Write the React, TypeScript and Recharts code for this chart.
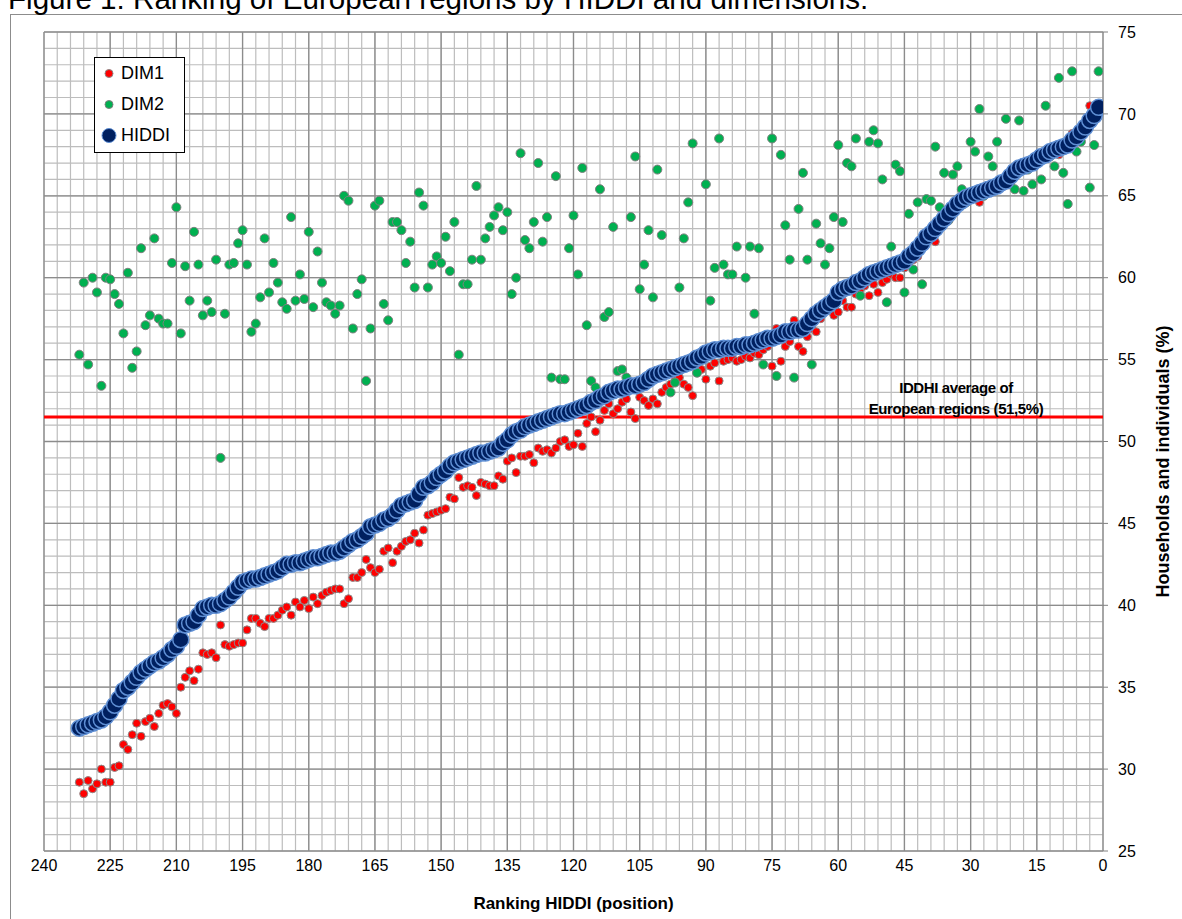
import React from 'react';
import {
  ScatterChart,
  Scatter,
  XAxis,
  YAxis,
  CartesianGrid,
  Legend,
  Label,
} from 'recharts';

// values listed from the last-ranked region (232) to the first (1)
const hiddi = [
  32.5, 32.6, 32.7, 32.8, 32.9, 33.0, 33.2, 33.5, 33.9, 34.3,
  34.8, 35.0, 35.3, 35.6, 35.9, 36.1, 36.3, 36.5, 36.6, 36.8,
  37.0, 37.3, 37.5, 37.9, 38.8, 38.9, 39.0, 39.4, 39.8, 39.9,
  40.0, 40.0, 40.1, 40.3, 40.5, 40.8, 41.1, 41.4, 41.5, 41.6,
  41.6, 41.7, 41.8, 41.9, 42.0, 42.1, 42.3, 42.5, 42.5, 42.6,
  42.6, 42.7, 42.8, 42.9, 42.9, 43.0, 43.1, 43.2, 43.2, 43.3,
  43.5, 43.7, 43.9, 44.0, 44.2, 44.4, 44.8, 44.9, 45.0, 45.2,
  45.3, 45.5, 45.8, 46.1, 46.2, 46.3, 46.4, 46.8, 47.2, 47.3,
  47.5, 47.8, 48.0, 48.2, 48.5, 48.7, 48.8, 48.9, 49.0, 49.1,
  49.2, 49.3, 49.3, 49.4, 49.5, 49.6, 49.9, 50.1, 50.4, 50.6,
  50.7, 50.9, 51.0, 51.1, 51.2, 51.3, 51.4, 51.5, 51.6, 51.7,
  51.7, 51.8, 51.9, 52.0, 52.1, 52.2, 52.4, 52.5, 52.7, 52.8,
  53.0, 53.1, 53.2, 53.2, 53.3, 53.4, 53.4, 53.5, 53.6, 53.8,
  54.0, 54.1, 54.2, 54.3, 54.4, 54.5, 54.6, 54.7, 54.8, 54.9,
  55.1, 55.2, 55.4, 55.5, 55.6, 55.6, 55.7, 55.7, 55.7, 55.8,
  55.8, 55.9, 55.9, 56.0, 56.1, 56.2, 56.3, 56.3, 56.4, 56.5,
  56.7, 56.7, 56.8, 56.8, 56.9, 57.2, 57.5, 57.8, 58.0, 58.2,
  58.4, 58.6, 59.1, 59.3, 59.4, 59.5, 59.7, 59.8, 60.0, 60.2,
  60.3, 60.4, 60.5, 60.6, 60.7, 60.8, 60.9, 61.0, 61.3, 61.5,
  61.8, 62.1, 62.5, 62.7, 63.0, 63.3, 63.6, 63.9, 64.2, 64.5,
  64.7, 64.9, 65.0, 65.1, 65.2, 65.3, 65.4, 65.5, 65.6, 65.8,
  65.9, 66.2, 66.5, 66.7, 66.8, 66.9, 67.0, 67.2, 67.4, 67.5,
  67.7, 67.8, 67.9, 68.0, 68.1, 68.4, 68.6, 68.9, 69.2, 69.6,
  69.9, 70.4,
];

const dim1 = [
  29.2, 28.5, 29.3, 28.8, 29.1, 30.0, 29.2, 29.2, 30.1, 30.2,
  31.5, 31.2, 32.1, 32.8, 32.0, 32.9, 33.1, 32.6, 33.4, 33.9,
  34.0, 33.8, 33.4, 35.0, 35.6, 36.0, 35.4, 36.1, 37.1, 37.0,
  37.1, 36.8, 38.8, 37.6, 37.5, 37.6, 37.7, 37.7, 38.5, 39.2,
  39.2, 38.9, 38.7, 39.2, 39.2, 39.4, 39.7, 39.9, 39.4, 40.2,
  39.9, 40.3, 39.8, 40.5, 40.1, 40.6, 40.8, 40.9, 41.0, 41.0,
  40.1, 40.4, 41.7, 41.7, 42.0, 42.8, 42.3, 42.0, 42.2, 43.3,
  43.5, 42.6, 43.3, 43.6, 43.9, 44.0, 44.4, 43.8, 44.6, 45.5,
  45.6, 45.7, 45.8, 45.9, 46.6, 46.5, 47.8, 47.2, 47.3, 47.2,
  46.7, 47.5, 47.4, 47.3, 47.3, 47.9, 47.7, 48.8, 49.0, 48.1,
  49.1, 49.1, 49.2, 48.7, 49.6, 49.4, 49.5, 49.3, 49.6, 50.0,
  50.1, 49.7, 49.8, 50.5, 49.7, 51.1, 51.5, 50.6, 51.3, 51.9,
  52.3, 51.7, 52.0, 52.4, 52.6, 51.8, 51.4, 52.7, 52.5, 52.2,
  52.6, 52.3, 53.0, 53.3, 53.5, 53.7, 53.9, 53.5, 53.3, 52.8,
  54.2, 54.4, 53.8, 54.6, 54.8, 53.7, 54.9, 55.0, 55.1, 54.9,
  55.0, 55.2, 55.1, 55.4, 55.3, 55.6, 55.8, 54.6, 56.9, 54.9,
  55.8, 56.1, 57.4, 55.8, 55.5, 56.4, 56.9, 56.7, 57.5, 58.0,
  58.0, 57.7, 57.9, 58.6, 58.2, 58.2, 59.0, 59.3, 59.5, 58.9,
  59.6, 59.1, 59.7, 59.9, 60.2, 60.0, 60.0, 60.6, 60.9, 61.1,
  61.3, 61.9, 62.2, 62.4, 62.2, 63.0, 63.3, 63.6, 64.0, 64.3,
  64.5, 64.7, 64.8, 64.9, 64.6, 65.1, 65.2, 65.3, 65.4, 65.6,
  65.7, 66.0, 66.3, 66.5, 66.6, 66.7, 66.8, 67.0, 67.2, 67.3,
  67.5, 67.6, 67.5, 67.8, 68.0, 68.8, 68.4, 68.7, 69.0, 70.5,
  69.8, 70.2,
];

const dim2 = [
  55.3, 59.7, 54.7, 60.0, 59.1, 53.4, 60.0, 59.9, 59.0, 58.4,
  56.6, 60.3, 54.5, 55.5, 61.8, 57.1, 57.7, 62.4, 57.5, 57.2,
  57.2, 60.9, 64.3, 56.6, 60.7, 58.6, 62.8, 60.8, 57.7, 58.6,
  57.9, 61.1, 49.0, 57.8, 60.8, 60.9, 62.1, 62.9, 60.8, 56.7,
  57.2, 58.8, 62.4, 59.1, 60.9, 59.7, 58.5, 58.1, 63.7, 58.6,
  60.2, 58.7, 62.8, 58.2, 61.6, 59.7, 58.5, 58.3, 57.8, 58.3,
  65.0, 64.7, 56.9, 59.0, 59.9, 53.7, 56.9, 64.4, 64.7, 58.4,
  57.4, 63.4, 63.4, 62.9, 60.9, 62.2, 59.4, 65.2, 64.4, 59.4,
  60.8, 61.3, 60.9, 62.5, 60.4, 63.4, 55.3, 59.6, 59.6, 61.1,
  65.6, 61.1, 62.4, 63.1, 63.8, 64.3, 62.9, 64.0, 59.0, 60.0,
  67.6, 62.3, 61.8, 63.4, 67.0, 62.2, 63.7, 53.9, 66.2, 53.8,
  53.8, 61.8, 63.8, 60.2, 66.7, 57.1, 53.7, 53.3, 65.4, 57.6,
  57.9, 63.1, 54.3, 54.4, 53.9, 63.7, 67.4, 59.3, 60.8, 62.9,
  58.8, 66.6, 62.6, 54.3, 53.0, 53.6, 59.4, 62.4, 64.6, 68.2,
  54.2, 55.0, 65.7, 58.6, 60.6, 68.5, 60.8, 60.2, 60.2, 61.9,
  56.0, 60.0, 61.9, 57.8, 61.8, 54.7, 56.3, 68.5, 54.0, 67.5,
  63.2, 61.1, 53.9, 64.2, 66.4, 61.1, 54.7, 63.3, 62.1, 60.8,
  61.8, 63.7, 68.1, 63.4, 67.0, 66.8, 68.5, 58.9, 59.9, 68.3,
  69.0, 68.2, 66.0, 58.5, 61.9, 66.9, 66.5, 59.1, 63.9, 60.5,
  64.6, 59.6, 64.8, 64.7, 68.0, 64.3, 66.4, 63.5, 66.3, 66.8,
  65.4, 64.6, 68.3, 67.7, 70.3, 65.0, 67.4, 66.8, 68.3, 65.6,
  69.7, 65.8, 65.4, 69.6, 65.3, 66.6, 65.7, 67.0, 66.0, 70.5,
  67.4, 66.8, 72.2, 66.4, 64.5, 72.6, 67.7, 68.3, 69.0, 65.5,
  68.1, 72.6,
];

const average = 51.5;
const xTicks = [0, 15, 30, 45, 60, 75, 90, 105, 120, 135, 150, 165, 180, 195, 210, 225, 240];
const yTicks = [25, 30, 35, 40, 45, 50, 55, 60, 65, 70, 75];

// grid steps: 3 positions across, 1 point up
const minorX = Array.from({ length: 81 }, (_, i) => i * 3);
const minorY = Array.from({ length: 51 }, (_, i) => 25 + i);

const rankOf = (i: number) => hiddi.length - i;
const toPoints = (vals: number[]) => vals.map((v, i) => ({ rank: rankOf(i), value: v }));

const dim1Data = toPoints(dim1);
const dim2Data = toPoints(dim2);
const hiddiData = toPoints(hiddi);
// average line spans the whole ranking axis
const avgData = [
  { rank: 240, value: average },
  { rank: 0, value: average },
];

const RED = '#ff0000';
const GREEN = '#00b050';
const NAVY = '#002060';
const NAVY_EDGE = '#5f8fd4';

const redDot = (p: any) => (
  <circle cx={p.cx} cy={p.cy} r={4} fill={RED} stroke="#8a8a8a" strokeWidth={1} />
);
const greenDot = (p: any) => (
  <circle cx={p.cx} cy={p.cy} r={4.5} fill={GREEN} stroke="#7f7f7f" strokeWidth={1} />
);
const blueDot = (p: any) => (
  <circle cx={p.cx} cy={p.cy} r={8} fill={NAVY} stroke={NAVY_EDGE} strokeWidth={1.5} />
);
const noDot = () => <g />;

// red line (running a bit past the plot edge, as in the source) plus its caption
const avgLine = (p: any) => {
  const pts = p.points || [];
  if (pts.length < 2) return <g />;
  const left = Math.min(pts[0].x, pts[1].x);
  const right = Math.max(pts[0].x, pts[1].x);
  const y = pts[0].y;
  const cx = right - 147;
  return (
    <g>
      <path d={`M${left},${y}H${right + 29}`} stroke={RED} strokeWidth={3} fill="none" />
      <text textAnchor="middle" fontSize={15} fontWeight="bold" fill="#000" letterSpacing={-0.4}>
        <tspan x={cx} y={y - 24}>IDDHI average of</tspan>
        <tspan x={cx} y={y - 3}>European regions (51,5%)</tspan>
      </text>
    </g>
  );
};

const legendItems = [
  { name: 'DIM1', fill: RED, stroke: '#8a8a8a', r: 4 },
  { name: 'DIM2', fill: GREEN, stroke: '#7f7f7f', r: 4 },
  { name: 'HIDDI', fill: NAVY, stroke: NAVY_EDGE, r: 7 },
];

const renderLegend = () => (
  <div
    style={{
      border: '1px solid #000',
      background: '#fff',
      width: 91,
      height: 96,
      boxSizing: 'border-box',
    }}
  >
    {legendItems.map((it) => (
      <div key={it.name} style={{ display: 'flex', alignItems: 'center', height: 31 }}>
        <svg width={26} height={31}>
          <circle cx={14} cy={15.5} r={it.r} fill={it.fill} stroke={it.stroke} strokeWidth={1} />
        </svg>
        <span style={{ fontSize: 18, color: '#000' }}>{it.name}</span>
      </div>
    ))}
  </div>
);

const yTitle = (p: any) => {
  const vb = p.viewBox || {};
  const x = vb.x + 66;
  const y = vb.y + vb.height / 2 + 20;
  return (
    <text
      x={x}
      y={y}
      transform={`rotate(-90, ${x}, ${y})`}
      textAnchor="middle"
      fontSize={18}
      fontWeight="bold"
      fill="#000"
    >
      Households and individuals (%)
    </text>
  );
};

export default function App() {
  return (
    <div
      style={{
        position: 'absolute',
        left: 0,
        top: 0,
        width: 1182,
        height: 919,
        overflow: 'hidden',
        background: '#fff',
        fontFamily: 'Arial, "Liberation Sans", sans-serif',
      }}
    >
      <div
        style={{
          position: 'absolute',
          left: 10,
          top: 14,
          width: 1220,
          height: 960,
          border: '1px solid #8c8c8c',
        }}
      />
      <div
        style={{
          position: 'absolute',
          left: 8,
          top: -16,
          fontSize: 29.6,
          lineHeight: '30px',
          whiteSpace: 'nowrap',
          color: '#000',
        }}
      >
        Figure 1: Ranking of European regions by HIDDI and dimensions:
      </div>
      <div style={{ position: 'absolute', left: 0, top: 0 }}>
        <ScatterChart width={1182} height={919} margin={{ top: 32, right: 0, bottom: 0, left: 44 }}>
          <CartesianGrid
            verticalValues={minorX}
            horizontalValues={minorY}
            stroke="#bdbdbd"
            strokeWidth={1.2}
          />
          <CartesianGrid stroke="#8c8c8c" strokeWidth={1.3} />
          <XAxis
            type="number"
            dataKey="rank"
            domain={[0, 240]}
            reversed
            ticks={xTicks}
            interval={0}
            allowDataOverflow
            tickLine={false}
            axisLine={false}
            tickSize={0}
            tickMargin={9}
            height={68}
            tick={{ fontSize: 16, fill: '#000' }}
          >
            <Label
              value="Ranking HIDDI (position)"
              position="insideBottom"
              offset={10}
              style={{ fontSize: 17, fontWeight: 'bold', fill: '#000' }}
            />
          </XAxis>
          <YAxis
            type="number"
            dataKey="value"
            orientation="right"
            domain={[25, 75]}
            ticks={yTicks}
            interval={0}
            allowDataOverflow
            width={79}
            axisLine={false}
            tickSize={5}
            tickLine={{ stroke: '#808080' }}
            tickMargin={10}
            tick={{ fontSize: 16, fill: '#000' }}
          >
            <Label content={yTitle} />
          </YAxis>
          <Legend
            layout="horizontal"
            verticalAlign="middle"
            align="center"
            content={renderLegend}
            wrapperStyle={{ left: 94, top: 57, width: 91, height: 96 }}
          />
          <Scatter
            name="average"
            data={avgData}
            line={avgLine}
            shape={noDot}
            legendType="none"
            isAnimationActive={false}
          />
          <Scatter name="DIM1" data={dim1Data} shape={redDot} isAnimationActive={false} />
          <Scatter name="DIM2" data={dim2Data} shape={greenDot} isAnimationActive={false} />
          <Scatter name="HIDDI" data={hiddiData} shape={blueDot} isAnimationActive={false} />
        </ScatterChart>
      </div>
    </div>
  );
}
